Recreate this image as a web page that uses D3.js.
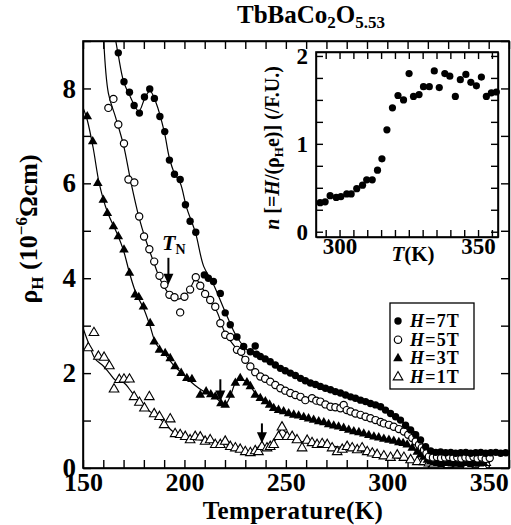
<!DOCTYPE html>
<html>
<head>
<meta charset="utf-8">
<script src="https://cdn.jsdelivr.net/npm/d3@7"></script>
<style>
  body { margin: 0; background: #fff; }
  svg text { font-family: "Liberation Serif", "Times New Roman", serif; }
  .axis path, .axis line { stroke: #000; stroke-width: 1.4; }
  .axis text { font-weight: bold; fill: #000; }
</style>
</head>
<body>
<div id="chart"></div>
<script>
// rho_H (10^-6 Ohm cm) vs temperature (K), one list per field
const h7T = [[167.4,8.75],[170.2,8.14],[172.9,7.92],[175.2,7.64],[177.8,7.48],[180.3,7.82],[182.9,7.99],[185.2,7.79],[187.9,7.41],[190.3,7.09],[192.6,6.49],[195.1,6.19],[197.9,6.08],[200.5,5.55],[202.8,5.20],[205.6,4.97],[209.8,4.07],[211.8,4.00],[214.3,3.93],[217.7,3.68],[220.1,3.27],[222.6,3.02],[225.9,2.76],[229.2,2.56],[232.5,2.45],[234.9,2.57],[235.5,2.40],[237.4,2.35],[239.8,2.30],[242.3,2.24],[244.8,2.17],[247.3,2.10],[249.7,2.05],[252.2,2.00],[254.7,1.95],[257.2,1.89],[259.6,1.84],[262.1,1.79],[264.6,1.76],[267.0,1.72],[269.5,1.68],[272.0,1.65],[274.4,1.61],[276.9,1.58],[279.4,1.54],[281.9,1.50],[284.3,1.47],[286.8,1.43],[289.3,1.40],[291.7,1.36],[294.2,1.33],[296.7,1.29],[299.1,1.22],[301.6,1.15],[304.1,1.08],[306.5,1.01],[309.0,0.90],[311.5,0.80],[314.0,0.70],[316.4,0.59],[318.9,0.45],[321.4,0.36],[323.9,0.33],[326.3,0.34],[328.8,0.32],[331.3,0.33],[333.7,0.31],[336.2,0.32],[338.7,0.33],[341.1,0.31],[343.6,0.32],[346.1,0.33],[348.5,0.31],[351.0,0.32],[353.5,0.33],[355.9,0.31],[358.4,0.32]];
const h5T = [[162.5,7.59],[165.0,7.78],[167.4,7.24],[170.2,6.84],[172.4,6.08],[175.3,6.02],[177.7,5.30],[180.1,4.88],[182.7,4.61],[185.1,4.35],[187.7,4.05],[190.1,3.86],[192.6,3.65],[195.1,3.60],[197.9,3.28],[200.0,3.61],[202.8,3.76],[205.6,4.02],[207.8,3.84],[210.2,3.67],[212.7,3.54],[215.2,3.40],[217.7,3.05],[220.1,2.81],[222.6,2.76],[225.9,2.49],[228.0,2.45],[230.0,2.28],[232.5,2.14],[234.9,2.02],[237.4,1.93],[239.8,1.88],[242.3,1.82],[244.8,1.75],[247.3,1.68],[249.7,1.63],[252.2,1.58],[254.7,1.54],[257.2,1.50],[259.6,1.43],[262.9,1.47],[265.0,1.42],[267.0,1.40],[269.5,1.34],[272.0,1.29],[274.4,1.28],[276.9,1.26],[278.5,1.33],[280.0,1.22],[281.9,1.19],[284.3,1.15],[286.8,1.12],[289.3,1.08],[291.7,1.05],[294.2,1.01],[296.7,0.97],[298.3,0.94],[300.8,0.91],[303.2,0.87],[305.7,0.82],[308.2,0.77],[310.3,0.70],[312.3,0.63],[314.0,0.56],[315.6,0.49],[317.0,0.43],[318.1,0.38],[319.3,0.31],[320.5,0.24],[322.5,0.22],[324.5,0.23],[326.5,0.21],[328.5,0.22],[330.5,0.23],[332.5,0.21],[334.5,0.22],[336.5,0.20],[338.5,0.22],[340.5,0.21],[342.5,0.23],[344.5,0.20],[346.5,0.22],[348.5,0.19],[350.5,0.21]];
const h3T = [[152.1,7.41],[154.8,6.88],[157.3,6.00],[160.0,5.65],[162.0,5.37],[165.0,5.09],[167.4,4.88],[170.2,4.60],[172.9,4.11],[175.7,3.65],[177.5,3.60],[179.8,3.40],[183.1,3.05],[185.1,2.66],[187.7,2.49],[190.5,2.42],[193.0,2.31],[195.4,2.14],[198.4,2.00],[201.2,1.89],[203.7,1.87],[207.8,1.54],[210.7,1.61],[213.0,1.55],[215.2,1.50],[218.0,1.36],[220.1,1.33],[222.6,1.54],[225.1,1.79],[227.5,1.89],[230.8,1.80],[232.5,1.72],[234.9,1.54],[237.4,1.47],[239.9,1.40],[242.0,1.33],[244.0,1.26],[246.4,1.22],[248.9,1.19],[251.4,1.15],[253.9,1.12],[256.3,1.10],[258.8,1.07],[261.2,1.04],[263.7,1.01],[266.2,0.98],[268.7,0.96],[271.1,0.92],[273.6,0.89],[276.0,0.87],[278.5,0.84],[281.0,0.80],[283.5,0.77],[286.0,0.75],[288.4,0.72],[290.9,0.69],[293.4,0.66],[295.8,0.64],[298.3,0.61],[300.8,0.59],[303.2,0.57],[305.7,0.54],[307.8,0.52],[309.8,0.49],[312.3,0.42],[314.8,0.34],[316.5,0.28],[318.1,0.23],[319.8,0.17],[321.4,0.13],[323.5,0.11],[325.5,0.10],[327.5,0.12],[329.5,0.10],[331.5,0.11],[333.5,0.09],[335.5,0.11],[337.5,0.10],[339.5,0.12],[341.5,0.10],[343.5,0.11],[345.5,0.09],[347.5,0.10]];
const h1T = [[152.6,2.53],[155.4,2.85],[157.6,2.35],[160.4,2.33],[163.0,2.15],[165.3,1.66],[167.9,1.86],[170.2,1.87],[172.9,1.87],[175.2,1.50],[177.8,1.38],[180.3,1.26],[182.7,1.50],[185.1,1.14],[187.7,1.08],[190.0,0.91],[193.0,1.03],[195.4,0.72],[197.9,0.70],[200.4,0.66],[202.8,0.59],[205.3,0.66],[207.8,0.65],[210.2,0.56],[212.7,0.59],[215.2,0.49],[217.7,0.49],[220.1,0.56],[222.6,0.45],[225.1,0.42],[227.5,0.39],[230.0,0.34],[232.5,0.32],[234.9,0.36],[236.5,0.34],[238.2,0.45],[240.7,0.42],[242.3,0.45],[244.0,0.49],[246.4,0.66],[248.1,0.86],[250.6,0.66],[253.1,0.66],[255.5,0.59],[258.0,0.42],[260.5,0.58],[262.9,0.53],[265.4,0.49],[267.9,0.51],[270.4,0.49],[272.8,0.42],[275.3,0.34],[277.8,0.39],[280.2,0.45],[282.7,0.42],[285.2,0.38],[287.6,0.42],[290.1,0.34],[292.6,0.31],[295.0,0.28],[298.3,0.25],[301.6,0.22],[304.9,0.27],[308.2,0.22],[311.5,0.17],[314.8,0.13],[318.1,0.13],[320.5,0.10],[322.9,0.08],[325.3,0.11],[327.7,0.09],[330.1,0.07],[332.5,0.10],[334.9,0.08],[337.3,0.09],[339.7,0.06],[342.1,0.09],[344.5,0.08],[346.9,0.04],[348.5,0.11]];

// guide lines drawn through each data set
const fit7T = [[164.6,9.4],[167.4,8.7],[170,8.15],[173,7.85],[177.5,7.52],[180.5,7.8],[183,7.95],[186,7.7],[190,7.1],[192.5,6.55],[195,6.22],[198,6.0],[201,5.5],[205.5,4.95],[209.5,4.25],[214,3.9],[220,3.3],[226,2.75],[232,2.45],[240,2.3],[250,2.05],[260,1.85],[280,1.53],[295,1.3],[305,1.05],[313,0.78],[318,0.48],[322,0.34],[360,0.31]];
const fit5T = [[159.8,9.4],[162.5,7.9],[166,7.4],[170,6.8],[173.5,6.05],[177.5,5.3],[181,4.8],[185,4.32],[188,3.98],[191,3.75],[194,3.6],[197,3.56],[200,3.62],[203,3.8],[205.5,3.98],[208,3.85],[212,3.56],[216,3.3],[220,2.85],[225,2.55],[232,2.18],[240,1.88],[250,1.63],[260,1.47],[275,1.3],[285,1.15],[300,0.92],[310,0.7],[316,0.44],[321,0.23],[330,0.21],[351,0.2]];
const fit3T = [[150,7.6],[152,7.35],[155,6.75],[158,6.0],[162,5.4],[167,4.92],[170,4.58],[173,4.1],[176,3.7],[180,3.35],[183,3.0],[186,2.62],[190,2.42],[195,2.15],[200,1.95],[205,1.75],[210,1.6],[215,1.5],[218,1.38],[220,1.33],[222.5,1.5],[225,1.78],[227.5,1.87],[231,1.8],[235,1.58],[240,1.4],[250,1.17],[262,1.03],[275,0.88],[290,0.7],[302,0.58],[310,0.48],[316,0.29],[321,0.14],[348,0.1]];
const fit1T = [[150,2.95],[153,2.6],[156,2.3],[160,2.15],[163,2.0],[166,1.85],[170,1.8],[174,1.6],[178,1.38],[182,1.22],[186,1.1],[190,0.95],[194,0.78],[198,0.68],[205,0.62],[212,0.56],[220,0.5],[228,0.38],[233,0.33],[237,0.38],[242,0.46],[245,0.6],[248,0.82],[251,0.7],[256,0.58],[265,0.5],[280,0.42],[292,0.32],[300,0.24],[310,0.18],[316,0.12],[348,0.09]];

// T_N arrows: temperature, tail and tip (rho units)
const arrowT = [192.1, 217.7, 238.2];
const arrowTail = [4.43, 1.87, 0.94];
const arrowTip = [3.86, 1.40, 0.52];

// inset: carrier number n vs T
const insetT = [293.0,294.8,296.6,298.8,300.5,302.6,304.2,306.2,308.3,309.8,311.8,313.7,315.3,317.1,319.1,321.1,323.1,325.1,326.7,328.7,330.3,332.4,334.2,336.0,338.0,339.8,341.8,343.6,345.6,347.4,349.4,351.2,353.0,354.8,356.6];
const insetN = [0.33,0.34,0.41,0.39,0.40,0.43,0.43,0.49,0.53,0.59,0.59,0.70,0.83,1.16,1.41,1.55,1.50,1.80,1.54,1.56,1.65,1.65,1.83,1.64,1.80,1.77,1.54,1.73,1.79,1.70,1.66,1.76,1.54,1.58,1.59];

const xTicks = d3.range(150, 361, 10);
const yTicks = d3.range(0, 10, 1);
const insetXTicks = d3.range(295, 360, 5);
const insetYTicks = d3.range(0, 2.01, 0.25);

const W = 511, H = 525;
const svg = d3.select("#chart").append("svg").attr("width", W).attr("height", H);

const x = d3.scaleLinear().domain([150, 360]).range([83, 509]);
const y = d3.scaleLinear().domain([0, 9]).range([468, 41]);

svg.append("clipPath").attr("id", "clip").append("rect")
    .attr("x", 83).attr("y", 41).attr("width", 426).attr("height", 427);

// axes, ticks pointing inward
const fmtMain = d => (d % 50 === 0 ? d : "");
svg.append("g").attr("class", "axis").attr("transform", "translate(0,468)")
    .call(d3.axisBottom(x).tickValues(xTicks).tickFormat(fmtMain).tickSize(-8).tickSizeOuter(0).tickPadding(5))
    .call(g => g.selectAll("text").attr("font-size", 26));
svg.append("g").attr("class", "axis").attr("transform", "translate(0,41)")
    .call(d3.axisTop(x).tickValues(xTicks).tickFormat("").tickSize(-8).tickSizeOuter(0));
svg.append("g").attr("class", "axis").attr("transform", "translate(83,0)")
    .call(d3.axisLeft(y).tickValues(yTicks).tickFormat(d => (d % 2 === 0 ? d : "")).tickSize(-8).tickSizeOuter(0).tickPadding(7))
    .call(g => g.selectAll("text").attr("font-size", 27));
svg.append("g").attr("class", "axis").attr("transform", "translate(509,0)")
    .call(d3.axisRight(y).tickValues(yTicks).tickFormat("").tickSize(-8).tickSizeOuter(0));
svg.append("rect").attr("x", 83).attr("y", 41).attr("width", 426).attr("height", 427)
    .attr("fill", "none").attr("stroke", "#000").attr("stroke-width", 1.6);

const plot = svg.append("g").attr("clip-path", "url(#clip)");
const line = d3.line().x(d => x(d[0])).y(d => y(d[1])).curve(d3.curveCatmullRom);
[fit7T, fit5T, fit3T, fit1T].forEach(f => {
  plot.append("path").attr("d", line(f)).attr("fill", "none").attr("stroke", "#000").attr("stroke-width", 1.2);
});

const tri = d3.symbol().type(d3.symbolTriangle).size(40);
function drawSet(data, kind) {
  const g = plot.append("g");
  if (kind === "circle" || kind === "ocircle") {
    g.selectAll("circle").data(data).join("circle")
      .attr("cx", d => x(d[0])).attr("cy", d => y(d[1]))
      .attr("r", kind === "circle" ? 3.7 : 3.6)
      .attr("fill", kind === "circle" ? "#000" : "#fff")
      .attr("stroke", "#000").attr("stroke-width", kind === "circle" ? 0 : 1.2);
  } else {
    g.selectAll("path").data(data).join("path")
      .attr("d", tri)
      .attr("transform", d => `translate(${x(d[0])},${y(d[1])})`)
      .attr("fill", kind === "tri" ? "#000" : "#fff")
      .attr("stroke", "#000").attr("stroke-width", kind === "tri" ? 0 : 1.1);
  }
}
drawSet(h1T, "otri");
drawSet(h3T, "tri");
drawSet(h5T, "ocircle");
drawSet(h7T, "circle");

// T_N arrows
arrowT.forEach((t, i) => {
  const ax = x(t), y0 = y(arrowTail[i]), y1 = y(arrowTip[i]);
  svg.append("line").attr("x1", ax).attr("x2", ax).attr("y1", y0).attr("y2", y1 - 9)
    .attr("stroke", "#000").attr("stroke-width", 2);
  svg.append("path").attr("d", `M${ax - 5},${y1 - 11}L${ax + 5},${y1 - 11}L${ax},${y1}Z`).attr("fill", "#000");
});
const tn = svg.append("text").attr("x", 162).attr("y", 250).attr("font-size", 22).attr("font-weight", "bold");
tn.append("tspan").attr("font-style", "italic").text("T");
tn.append("tspan").attr("font-size", 14).attr("dy", 4).text("N");

// legend
const lg = svg.append("g");
lg.append("rect").attr("x", 390).attr("y", 303).attr("width", 84).attr("height", 86)
  .attr("fill", "#fff").attr("stroke", "#000").attr("stroke-width", 1.3);
const legendLabels = ["7T", "5T", "3T", "1T"];
const legendKinds = ["circle", "ocircle", "tri", "otri"];
legendLabels.forEach((lab, i) => {
  const cy = 321 + i * 18.7;
  const k = legendKinds[i];
  if (k === "circle" || k === "ocircle") {
    lg.append("circle").attr("cx", 398).attr("cy", cy).attr("r", 3.7)
      .attr("fill", k === "circle" ? "#000" : "#fff").attr("stroke", "#000").attr("stroke-width", k === "circle" ? 0 : 1.2);
  } else {
    lg.append("path").attr("d", tri).attr("transform", `translate(398,${cy})`)
      .attr("fill", k === "tri" ? "#000" : "#fff").attr("stroke", "#000").attr("stroke-width", k === "tri" ? 0 : 1.1);
  }
  const t = lg.append("text").attr("x", 410).attr("y", cy + 6).attr("font-size", 18)
    .attr("font-weight", "bold").attr("letter-spacing", 1.2);
  t.append("tspan").attr("font-style", "italic").text("H");
  t.append("tspan").text("=" + lab);
});

// titles
const title = svg.append("text").attr("x", 311).attr("y", 23).attr("text-anchor", "middle")
  .attr("font-size", 25).attr("font-weight", "bold");
title.append("tspan").text("TbBaCo");
title.append("tspan").attr("font-size", 17).attr("dy", 5).text("2");
title.append("tspan").attr("dy", -5).text("O");
title.append("tspan").attr("font-size", 17).attr("dy", 5).text("5.53");

svg.append("text").attr("x", 293).attr("y", 519).attr("text-anchor", "middle")
  .attr("font-size", 25).attr("font-weight", "bold").attr("letter-spacing", 0.4).text("Temperature(K)");

const yl = svg.append("text").attr("transform", "translate(37,229) rotate(-90)")
  .attr("text-anchor", "middle").attr("font-size", 26).attr("font-weight", "bold");
yl.append("tspan").text("ρ");
yl.append("tspan").attr("font-size", 17).attr("dy", 6).text("H");
yl.append("tspan").attr("dy", -6).text(" (10");
yl.append("tspan").attr("font-size", 17).attr("dy", -10).text("−6");
yl.append("tspan").attr("dy", 10).text("Ωcm)");

// inset
const ix = d3.scaleLinear().domain([291.5, 357.2]).range([316, 498]);
const iy = d3.scaleLinear().domain([-0.06, 2.045]).range([237, 52]);
const inset = svg.append("g");
inset.append("rect").attr("x", 316).attr("y", 52).attr("width", 182).attr("height", 185).attr("fill", "#fff");
inset.append("g").attr("class", "axis").attr("transform", "translate(0,237)")
  .call(d3.axisBottom(ix).tickValues(insetXTicks).tickFormat(d => (d % 50 === 0 ? d : "")).tickSize(-7).tickSizeOuter(0).tickPadding(1))
  .call(g => g.selectAll("text").attr("font-size", 23));
inset.append("g").attr("class", "axis").attr("transform", "translate(0,52)")
  .call(d3.axisTop(ix).tickValues(insetXTicks).tickFormat("").tickSize(-7).tickSizeOuter(0));
inset.append("g").attr("class", "axis").attr("transform", "translate(316,0)")
  .call(d3.axisLeft(iy).tickValues(insetYTicks).tickFormat(d => (Number.isInteger(d) ? d : "")).tickSize(-7).tickSizeOuter(0).tickPadding(8))
  .call(g => g.selectAll("text").attr("font-size", 23));
inset.append("g").attr("class", "axis").attr("transform", "translate(498,0)")
  .call(d3.axisRight(iy).tickValues(insetYTicks).tickFormat("").tickSize(-7).tickSizeOuter(0));
inset.append("rect").attr("x", 316).attr("y", 52).attr("width", 182).attr("height", 185)
  .attr("fill", "none").attr("stroke", "#000").attr("stroke-width", 1.6);
inset.selectAll("circle.n").data(insetT).join("circle").attr("class", "n")
  .attr("cx", d => ix(d)).attr("cy", (d, i) => iy(insetN[i])).attr("r", 3.6).attr("fill", "#000");

const itl = inset.append("text").attr("x", 413).attr("y", 261).attr("text-anchor", "middle")
  .attr("font-size", 21).attr("font-weight", "bold");
itl.append("tspan").attr("font-style", "italic").text("T");
itl.append("tspan").text("(K)");

const iyl = inset.append("text").attr("transform", "translate(279,148) rotate(-90)")
  .attr("text-anchor", "middle").attr("font-size", 20).attr("font-weight", "bold");
iyl.append("tspan").attr("font-style", "italic").text("n");
iyl.append("tspan").text(" [=");
iyl.append("tspan").attr("font-style", "italic").text("H");
iyl.append("tspan").text("/(ρ");
iyl.append("tspan").attr("font-size", 13).attr("dy", 4).text("H");
iyl.append("tspan").attr("dy", -4).text("e)] (/F.U.)");
</script>
</body>
</html>
